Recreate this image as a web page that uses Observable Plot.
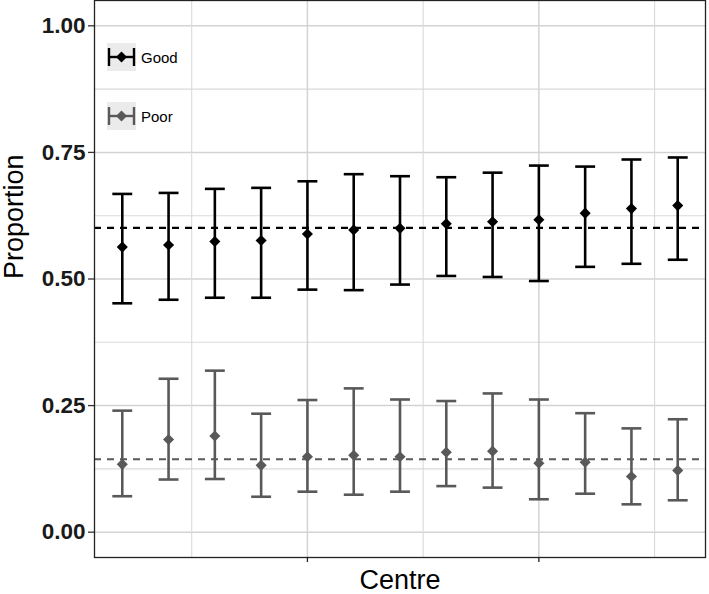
<!DOCTYPE html>
<html>
<head>
<meta charset="utf-8">
<script src="https://cdn.jsdelivr.net/npm/d3@7"></script>
<script src="https://cdn.jsdelivr.net/npm/@observablehq/plot@0.6"></script>
<style>
  html, body { margin: 0; padding: 0; background: #fff; }
  #wrap { position: relative; width: 709px; height: 594px; font-family: "Liberation Sans", Arial, sans-serif; }
  #legend { position: absolute; left: 107px; top: 43px; }
</style>
</head>
<body>
<div id="wrap"><div id="chart"></div><div id="legend"></div></div>
<script>
// ---- data ----
const centres   = [1, 2, 3, 4, 5, 6, 7, 8, 9, 10, 11, 12, 13];
const goodEst   = [0.563, 0.567, 0.574, 0.576, 0.589, 0.597, 0.600, 0.609, 0.613, 0.617, 0.630, 0.639, 0.645];
const goodLow   = [0.452, 0.459, 0.463, 0.463, 0.479, 0.478, 0.489, 0.506, 0.504, 0.496, 0.524, 0.530, 0.538];
const goodHigh  = [0.668, 0.670, 0.678, 0.680, 0.693, 0.707, 0.703, 0.701, 0.710, 0.724, 0.722, 0.736, 0.740];
const poorEst   = [0.134, 0.183, 0.190, 0.132, 0.149, 0.152, 0.149, 0.158, 0.160, 0.136, 0.138, 0.110, 0.122];
const poorLow   = [0.071, 0.104, 0.105, 0.070, 0.080, 0.074, 0.080, 0.091, 0.088, 0.065, 0.076, 0.055, 0.063];
const poorHigh  = [0.240, 0.303, 0.319, 0.234, 0.261, 0.284, 0.262, 0.259, 0.274, 0.262, 0.235, 0.205, 0.223];
const seriesNames   = ["Good", "Poor"];
const seriesOverall = [0.601, 0.144];
const seriesColors  = ["#000000", "#595959"];
const yTicks      = [0, 0.25, 0.5, 0.75, 1];
const yMinorTicks = [0.125, 0.375, 0.625, 0.875];
const xTicks      = [5, 10];
const xMinorTicks = [2.5, 7.5, 12.5];
const xTitle = "Centre";
const yTitle = "Proportion";

// ---- build table ----
const rows = [];
centres.forEach((c, i) => {
  rows.push({centre: c, series: "Good", est: goodEst[i], low: goodLow[i], high: goodHigh[i]});
  rows.push({centre: c, series: "Poor", est: poorEst[i], low: poorLow[i], high: poorHigh[i]});
});
const overall = seriesNames.map((s, i) => ({series: s, value: seriesOverall[i]}));
const colorOf = s => seriesColors[seriesNames.indexOf(s)];
const capHalf = 0.215;
const font = '"Liberation Sans", Arial, sans-serif';

const chart = Plot.plot({
  width: 709,
  height: 594,
  marginLeft: 94,
  marginRight: 4,
  marginTop: 0,
  marginBottom: 37,
  style: {fontFamily: font, background: "#fff", overflow: "visible"},
  x: {domain: [0.4, 13.6]},
  y: {domain: [-0.05, 1.05]},
  marks: [
    Plot.gridY(yMinorTicks, {stroke: "#dadada", strokeOpacity: 1, strokeWidth: 1.1}),
    Plot.gridY(yTicks, {stroke: "#d3d3d3", strokeOpacity: 1, strokeWidth: 1.5}),
    Plot.gridX(xMinorTicks, {stroke: "#dadada", strokeOpacity: 1, strokeWidth: 1.1}),
    Plot.gridX(xTicks, {stroke: "#d3d3d3", strokeOpacity: 1, strokeWidth: 1.5}),
    Plot.ruleY(overall, {y: "value", stroke: d => colorOf(d.series), strokeWidth: 2.2, strokeDasharray: "7,6"}),
    Plot.ruleX(rows, {x: "centre", y1: "low", y2: "high", stroke: d => colorOf(d.series), strokeWidth: 2.6}),
    Plot.link(rows, {x1: d => d.centre - capHalf, x2: d => d.centre + capHalf, y1: "high", y2: "high", stroke: d => colorOf(d.series), strokeWidth: 2.6}),
    Plot.link(rows, {x1: d => d.centre - capHalf, x2: d => d.centre + capHalf, y1: "low", y2: "low", stroke: d => colorOf(d.series), strokeWidth: 2.6}),
    Plot.dot(rows, {x: "centre", y: "est", symbol: "diamond2", r: 5, fill: d => colorOf(d.series), stroke: "none"}),
    Plot.frame({stroke: "#222", strokeWidth: 1.3}),
    Plot.axisY({ticks: yTicks, tickFormat: d3.format(".2f"), tickSize: 6, tickPadding: 3, fontSize: 22.5, fontWeight: "bold", label: null, stroke: "#333", strokeWidth: 1.3, fill: "#1a1a1a"}),
    Plot.axisX({ticks: xTicks, tickFormat: () => "", tickSize: 5, label: null, stroke: "#222", strokeWidth: 1.3}),
    Plot.text([yTitle], {text: d => d, frameAnchor: "left", rotate: -90, dx: -80, fontSize: 27, lineAnchor: "middle", fill: "#000"}),
    Plot.text([xTitle], {text: d => d, frameAnchor: "bottom", dy: 23, fontSize: 27, lineAnchor: "middle", fill: "#000"})
  ]
});
document.getElementById("chart").appendChild(chart);

// ---- legend (inside panel, top-left) ----
const leg = d3.select("#legend").append("svg").attr("width", 90).attr("height", 90)
  .style("font-family", font).style("overflow", "visible");
seriesNames.forEach((s, i) => {
  const g = leg.append("g").attr("transform", `translate(0,${i * 59})`);
  const col = seriesColors[i];
  g.append("rect").attr("x", 0).attr("y", 0).attr("width", 29).attr("height", 28).attr("fill", "#ebebeb");
  g.append("line").attr("x1", 2).attr("x2", 27).attr("y1", 14).attr("y2", 14).attr("stroke", col).attr("stroke-width", 2.4);
  g.append("line").attr("x1", 2).attr("x2", 2).attr("y1", 5).attr("y2", 23).attr("stroke", col).attr("stroke-width", 2.4);
  g.append("line").attr("x1", 27).attr("x2", 27).attr("y1", 5).attr("y2", 23).attr("stroke", col).attr("stroke-width", 2.4);
  g.append("path").attr("d", "M14.5,8.5L20,14L14.5,19.5L9,14Z").attr("fill", col);
  g.append("text").attr("x", 34).attr("y", 20).attr("font-size", 15).attr("fill", "#000").text(s);
});
</script>
</body>
</html>
